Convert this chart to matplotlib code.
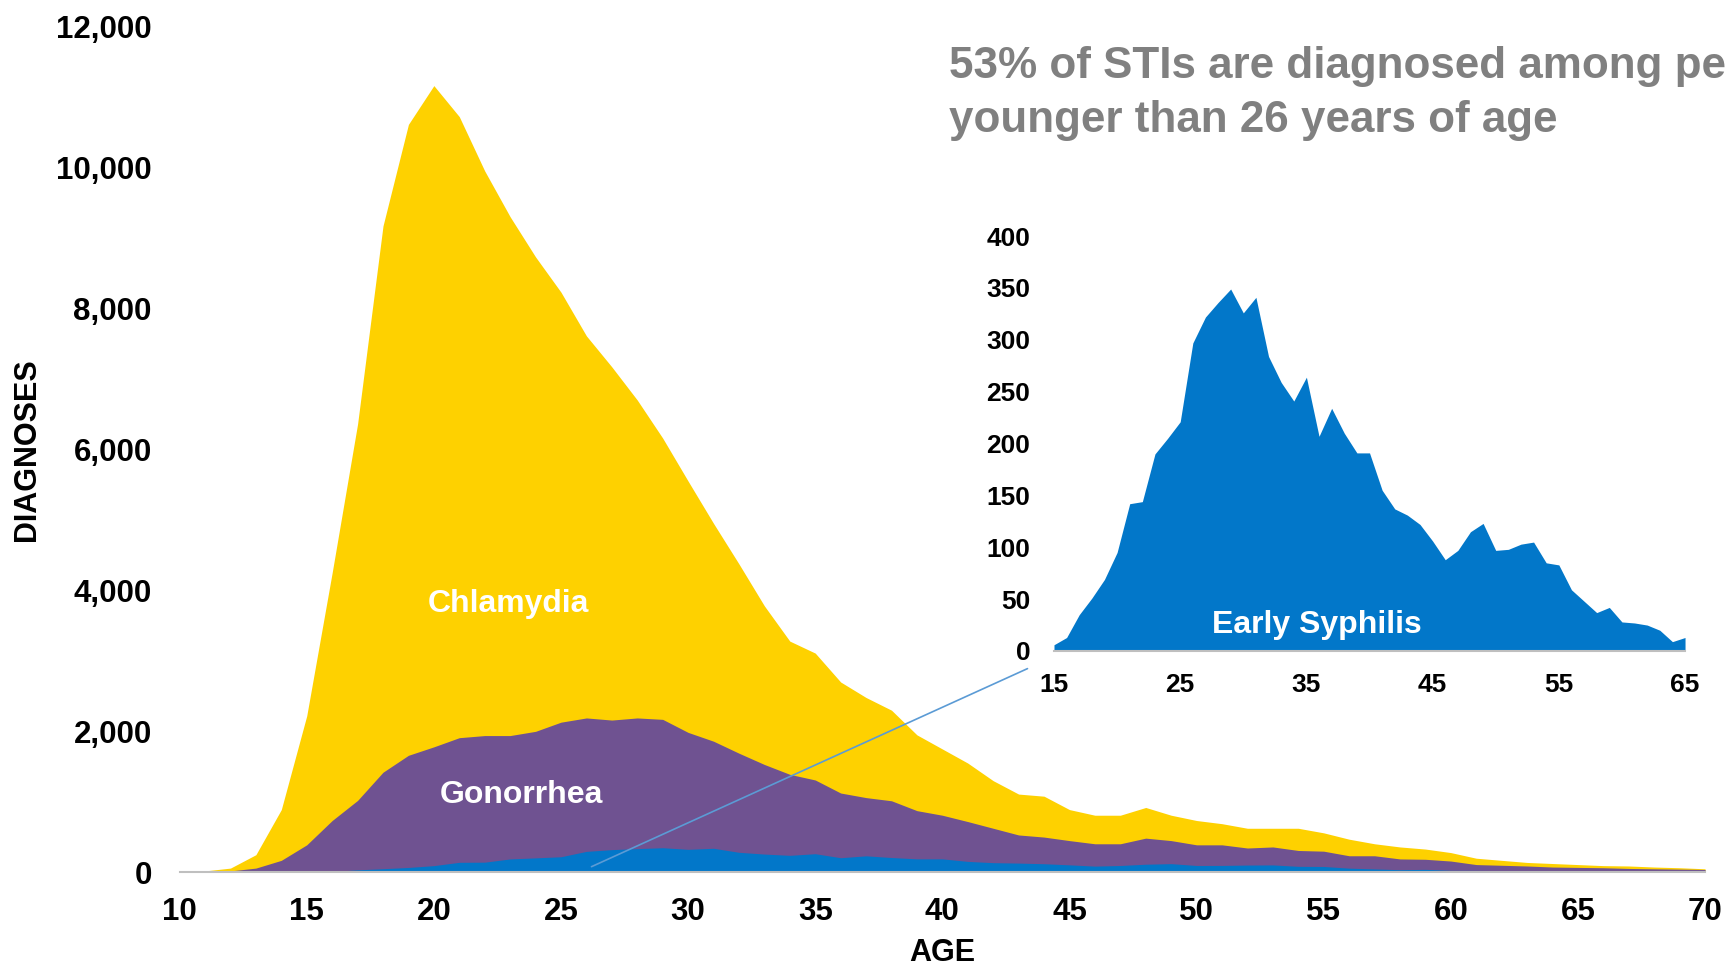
import matplotlib.pyplot as plt

# Data (umur 10-70)
ages = list(range(10, 71))

chlamydia = [10, 20, 60, 250, 890, 2220, 4250, 6360, 9170, 10610,
             11160, 10720, 9950, 9300, 8730, 8230, 7610, 7170, 6700, 6160,
             5550, 4950, 4375, 3780, 3280, 3110, 2700, 2480, 2300, 1950,
             1750, 1550, 1300, 1110, 1080, 890, 810, 810, 920, 810,
             735, 690, 625, 625, 625, 560, 470, 405, 360, 330,
             280, 200, 170, 140, 125, 110, 95, 90, 75, 65,
             50]

gonorrhea = [0, 5, 20, 60, 170, 390, 735, 1020, 1420, 1660,
             1780, 1910, 1940, 1940, 2000, 2130, 2190, 2160, 2190, 2170,
             1985, 1860, 1690, 1530, 1390, 1310, 1125, 1060, 1015, 875,
             810, 720, 625, 530, 500, 450, 405, 405, 485, 450,
             390, 390, 345, 360, 310, 300, 235, 235, 190, 185,
             160, 110, 100, 90, 75, 70, 65, 55, 50, 45,
             40]

# Early syphilis, umur 15-65 (inset)
syph_ages = list(range(15, 66))
syphilis = [6, 13, 35, 51, 69, 95, 142, 144, 190, 205,
            221, 297, 322, 336, 349, 326, 341, 284, 259, 241,
            264, 207, 234, 210, 191, 191, 155, 137, 131, 122,
            106, 88, 97, 115, 123, 97, 98, 103, 105, 85,
            83, 59, 48, 37, 42, 28, 27, 25, 20, 9,
            13]

# syphilis di grafik utama (ditambah umur 10-14 dan 66-70)
syph_main = [0, 0, 0, 1, 3] + syphilis + [10, 8, 6, 5, 4]

y_ticks = [0, 2000, 4000, 6000, 8000, 10000, 12000]
x_ticks = [10, 15, 20, 25, 30, 35, 40, 45, 50, 55, 60, 65, 70]
inset_y_ticks = [0, 50, 100, 150, 200, 250, 300, 350, 400]
inset_x_ticks = [15, 25, 35, 45, 55, 65]

YELLOW = '#FED100'
PURPLE = '#6F5291'
BLUE = '#0277C9'
GREY_TEXT = '#808080'

plt.rcParams['font.family'] = ['Liberation Sans', 'DejaVu Sans']
plt.rcParams['font.weight'] = 'bold'

fig = plt.figure(figsize=(17.27, 9.67), dpi=100)

# 1. Grafik utama
ax = fig.add_axes([0.1040, 0.0979, 0.8833, 0.8748])
ax.fill_between(ages, chlamydia, color=YELLOW, linewidth=0, zorder=1)
ax.fill_between(ages, gonorrhea, color=PURPLE, linewidth=0, zorder=2)
ax.fill_between(ages, syph_main, color=BLUE, linewidth=0, zorder=3)

ax.set_xlim(10, 70)
ax.set_ylim(0, 12000)
ax.set_xticks(x_ticks)
ax.set_yticks(y_ticks)
ax.set_yticklabels([f'{v:,}' for v in y_ticks])
ax.tick_params(axis='both', length=0, labelsize=22.5)
ax.tick_params(axis='y', pad=20)
ax.tick_params(axis='x', pad=18)
for side in ['top', 'right', 'left']:
    ax.spines[side].set_visible(False)
ax.spines['bottom'].set_color('#BFBFBF')
ax.spines['bottom'].set_linewidth(1.5)
ax.spines['bottom'].set_zorder(4)

ax.set_xlabel('AGE', fontsize=22, fontweight='bold', labelpad=8)
ax.set_ylabel('DIAGNOSES', fontsize=22, fontweight='bold', labelpad=10)

ax.text(22.95, 3812, 'Chlamydia', color='white', fontsize=23,
        fontweight='bold', ha='center', va='center', zorder=5)
ax.text(23.43, 1094, 'Gonorrhea', color='white', fontsize=23,
        fontweight='bold', ha='center', va='center', zorder=5)

# 2. Inset early syphilis
axin = fig.add_axes([0.6103, 0.3268, 0.3654, 0.4290])
axin.fill_between(syph_ages, syphilis, color=BLUE, linewidth=0)
axin.set_xlim(15, 65)
axin.set_ylim(0, 400)
axin.set_xticks(inset_x_ticks)
axin.set_yticks(inset_y_ticks)
axin.tick_params(axis='both', length=0, labelsize=19)
axin.tick_params(axis='y', pad=17)
axin.tick_params(axis='x', pad=16)
axin.patch.set_alpha(0)
for side in ['top', 'right', 'left']:
    axin.spines[side].set_visible(False)
axin.spines['bottom'].set_color('#BFBFBF')
axin.spines['bottom'].set_linewidth(1.5)

axin.text(35.8, 25.5, 'Early Syphilis', color='white', fontsize=23,
          fontweight='bold', ha='center', va='center')

# 3. Garis penghubung (dari grafik utama ke inset)
ax.annotate('', xy=(26.2, 80), xycoords='data',
            xytext=(12.9, -17), textcoords=axin.transData,
            arrowprops=dict(arrowstyle='-', color='#5B9BD5', lw=1.2,
                            shrinkA=0, shrinkB=0),
            annotation_clip=False, zorder=6)

# 4. Teks subjudul abu-abu
fig.text(0.5497, 0.931, '53% of STIs are diagnosed among people',
         color=GREY_TEXT, fontsize=31.7, fontweight='bold', va='center')
fig.text(0.5497, 0.875, 'younger than 26 years of age',
         color=GREY_TEXT, fontsize=31.7, fontweight='bold', va='center')

fig.savefig('out.png', dpi=100)
